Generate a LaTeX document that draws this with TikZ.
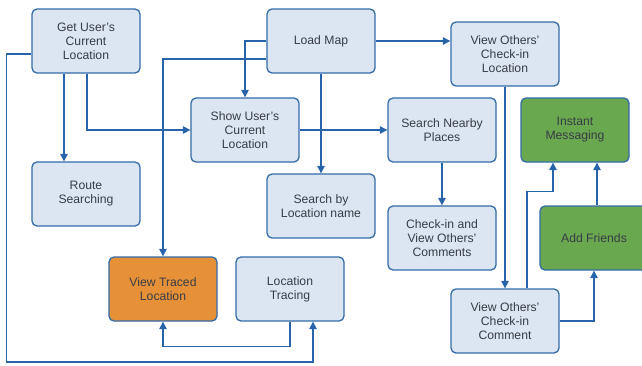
\documentclass[tikz,border=0pt]{standalone}
\usepackage{fontspec}
\setmainfont{Liberation Sans}
\usetikzlibrary{arrows.meta, positioning}
\usepackage{xcolor}
\definecolor{boxfill}{RGB}{220,230,242}
\definecolor{boxline}{RGB}{52,108,170}
\definecolor{linkline}{RGB}{40,100,170}
\definecolor{textgray}{RGB}{55,60,70}
\definecolor{tracedfill}{RGB}{230,145,56}
\definecolor{socialfill}{RGB}{106,168,79}

\begin{document}
\begin{tikzpicture}[x=1pt, y=-1pt,
        task/.style={draw=boxline, line width=1.3pt, fill=boxfill, rounded corners=5pt,
            minimum width=108pt, minimum height=64pt, align=center,
            text=textgray, font=\fontsize{12.2}{14}\selectfont},
        link/.style={draw=linkline, line width=1.2pt,
            -{Triangle[width=7.5pt, length=7.5pt]}}]
            \clip (0,0) rectangle (642,365);
            \fill[white] (0,0) rectangle (642,365);
            \node[task] (getloc)  at (86,41)   {Get User's\\Current\\Location};
            \node[task] (loadmap) at (321,41)  {Load Map};
            \node[task] (viewloc) at (505,54)  {View Others'\\Check-in\\Location};
            \node[task] (showloc) at (245,130) {Show User's\\Current\\Location};
            \node[task] (nearby)  at (442,130) {Search Nearby\\Places};
            \node[task, fill=socialfill] (instant) at (575,130) {Instant\\Messaging};
            \node[task] (route)   at (86,194)  {Route\\Searching};
            \node[task] (byname)  at (321,206) {Search by\\Location name};
            \node[task] (checkin) at (442,238) {Check-in and\\View Others'\\Comments};
            \node[task, fill=socialfill] (friends) at (594,238) {Add Friends};
            \node[task, fill=tracedfill] (traced) at (163,289) {View Traced\\Location};
            \node[task] (tracing) at (290,289) {Location\\Tracing};
            \node[task] (viewcom) at (505,321) {View Others'\\Check-in\\Comment};

            \draw[link] ([xshift=-22pt]getloc.south) -- ([xshift=-22pt]route.north);
            \draw[link] ([xshift=1pt]getloc.south) |- (showloc.west);
            \draw[link] ([yshift=-13pt]getloc.west) -- ++(-25pt,0pt) -- ++(0pt,-308pt)
                -| ([xshift=23pt]tracing.south);
            \draw[link] (loadmap.west) -| (showloc.north);
            \draw[link] ([yshift=-18pt]loadmap.west) -| (traced.north);
            \draw[link] (loadmap.south) -- (byname.north);
            \draw[link] (loadmap.east) -- (loadmap.east -| viewloc.west);
            \draw[link] (showloc.east) -- (nearby.west);
            \draw[link] (nearby.south) -- (checkin.north);
            \draw[link] (viewloc.south) -- (viewcom.north);
            % comment box feeds both social boxes
            \draw[link] ([xshift=22pt]viewcom.north) |- ([xshift=-22pt, yshift=-29pt]instant.south)
                -- ([xshift=-22pt]instant.south);
            \draw[link] (viewcom.east) -| (friends.south);
            \draw[link] ([xshift=3pt]friends.north) -- ([xshift=22pt]instant.south);
            \draw[link] (tracing.south) -- ++(0pt,-25pt) -| (traced.south);
        \end{tikzpicture}
\end{document}
